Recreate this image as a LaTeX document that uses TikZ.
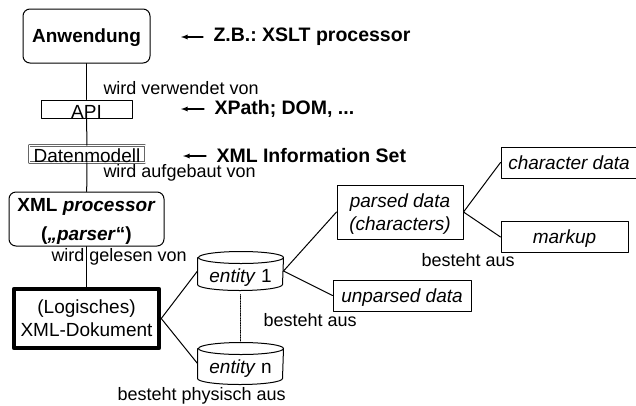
\documentclass[tikz,border=0pt]{standalone}
\usepackage{fontspec}
\setmainfont{Liberation Sans}
\usetikzlibrary{arrows}
\frenchspacing
\tikzset{
  roundbox/.style={draw,rounded corners=7pt,align=center,inner sep=0pt,text depth=0pt},
  plainbox/.style={draw,align=center,inner sep=0pt,text depth=0pt},
  store/.style={inner sep=0pt,minimum width=85pt,text depth=0pt},
  note/.style={anchor=west,inner sep=0pt,font=\fontsize{19.5}{23}\selectfont\bfseries},
  rel/.style={anchor=west,inner sep=0pt,font=\fontsize{18}{22}\selectfont},
  hint/.style={<-,>=latex,line width=1.3pt,shorten >=10pt}
}
\begin{document}
\begin{tikzpicture}[line cap=round,line join=round,line width=1pt,x=1pt,y=-1pt,font=\fontsize{19}{23}\selectfont]
	\useasboundingbox (0,0) rectangle (636,405);
	\node[roundbox,minimum width=127pt,minimum height=54pt,font=\fontsize{19}{23}\selectfont\bfseries] (anwendung) at (86.5,36) {Anwendung};
	\node[plainbox,minimum width=91pt,minimum height=18pt,text height=18pt] (api) at (86.5,109) {API};
	\node[plainbox,draw=black!60,double,double distance=1pt,line width=0.6pt,minimum width=116pt,minimum height=16pt,text height=17pt] (datenmodell) at (87,154) {Datenmodell};
	\node[roundbox,minimum width=155pt,minimum height=54pt,font=\fontsize{19}{29}\selectfont\bfseries] (processor) at (86.5,219) {XML \textit{processor}\\(\textit{„parser}“)};
	\node[plainbox,line width=4.5pt,minimum width=145pt,minimum height=59pt] (dokument) at (86.5,318.5) {(Logisches)\\XML-Dokument};
	\node[store,minimum height=26pt,text height=22pt] (entityone) at (240.5,271) {\textit{entity} 1};
	\node[store,minimum height=29pt,text height=19pt] (entityn) at (240.5,363.5) {\textit{entity} n};
	\foreach \drum in {entityone,entityn} {
		\draw (\drum.north west) -- (\drum.south west) arc (180:360:42.5pt and 6pt) -- (\drum.north east) arc (0:360:42.5pt and 6pt);
	}
	\node[plainbox,minimum width=126pt,minimum height=54pt] (parsed) at (400,212) {\textit{parsed data}\\\textit{(characters)}};
	\node[plainbox,minimum width=138pt,minimum height=31pt] (unparsed) at (402,295.5) {\textit{unparsed data}};
	\node[plainbox,minimum width=136pt,minimum height=31pt] (chardata) at (569,162.5) {\textit{character data}};
	\node[plainbox,minimum width=127pt,minimum height=31pt] (markup) at (564.5,237) {\textit{markup}};
	\draw (anwendung) -- (api);
	\draw (api) -- (datenmodell);
	\draw (datenmodell) -- (processor);
	\draw (processor) -- (dokument);
	\draw (dokument.east) -- (entityone.west);
	\draw (dokument.east) -- (entityn.west);
	\draw[densely dotted,line width=0.7pt,shorten >=7pt,shorten <=10pt] (entityone) -- (entityn);
	\draw (entityone.east) -- (parsed.west);
	\draw (entityone.east) -- (unparsed.west);
	\draw (parsed.east) -- (chardata.west);
	\draw (parsed.east) -- (markup.west);
	\node[rel] (verwendet) at (103,88) {wird verwendet von};
	\node[rel] (aufgebaut) at (103,173) {wird aufgebaut von};
	\node[rel] (gelesen) at (51,257) {wird gelesen von};
	\node[rel] (physisch) at (117,396) {besteht physisch aus};
	\node[rel] (unparsedaus) at (263,320) {besteht aus};
	\node[rel] (markupaus) at (421,260) {besteht aus};
	\node[note] (xslt) at (213,37) {Z.B.: XSLT processor};
	\node[note] (xpath) at (214,109) {XPath; DOM, ...};
	\node[note] (infoset) at (216,156) {XML Information Set};
	\coordinate (xsltend) at (181,37);
	\coordinate (xpathend) at (181,109);
	\coordinate (infosetend) at (183,156);
	\draw[hint] (xsltend) -- (xslt);
	\draw[hint] (xpathend) -- (xpath);
	\draw[hint] (infosetend) -- (infoset);
\end{tikzpicture}
\end{document}
